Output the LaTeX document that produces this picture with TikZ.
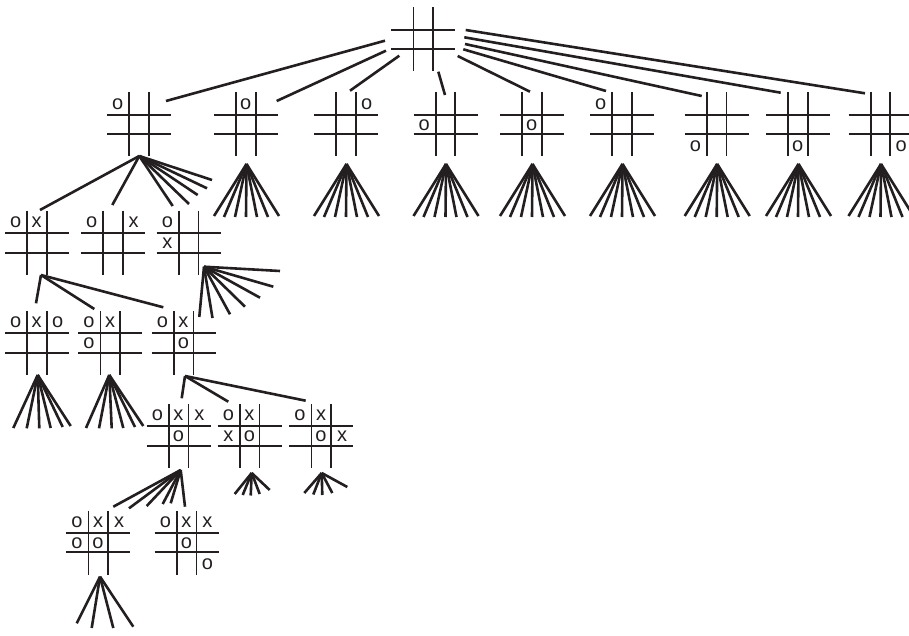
\documentclass[tikz,border=0pt]{standalone}
\usepackage{fontspec}
\setmainfont{Liberation Sans}
\usetikzlibrary{calc}
\definecolor{ink}{HTML}{231F20}
\newcommand\tttboard[3]{%
  \node[board] (#1) at (#2,#3) {};
  \draw[gridline] ($(#1.north)+(-9.7,0)$) -- ($(#1.south)+(-9.7,0)$);
  \draw[gridline] ($(#1.north)+(9.7,0)$) -- ($(#1.south)+(9.7,0)$);
  \draw[gridline] ($(#1.west)+(0,-9.7)$) -- ($(#1.east)+(0,-9.7)$);
  \draw[gridline] ($(#1.west)+(0,9.7)$) -- ($(#1.east)+(0,9.7)$);
}
\newcommand\cellmk[4]{%
  \node[cellmark] (#1-#2#3) at ($(#1)+({(#2-2)*21-0.3},{(#3-2)*21+0.5})$) {#4};
}
\begin{document}
\begin{tikzpicture}[x=1pt,y=-1pt,
  gridline/.style={draw=ink, line width=1.7pt, line cap=butt},
  conn/.style={draw=ink, line width=2.6pt, line cap=butt},
  board/.style={minimum width=64pt, minimum height=64pt, inner sep=0pt, outer sep=0pt},
  cellmark/.style={text=ink, font=\fontsize{20}{20}\selectfont, inner sep=0pt}]
\useasboundingbox (0,0) rectangle (909,636);

% root
\tttboard{t}{423.3}{39.5}

% level 1
\foreach \k/\x in {1/139,2/246,3/346,4/445.5,5/532,6/622,7/716.7,8/798,9/880.5}{
  \tttboard{a\k}{\x}{124.5}
}
\cellmk{a1}{1}{1}{o}
\cellmk{a2}{2}{1}{o}
\cellmk{a3}{3}{1}{o}
\cellmk{a4}{1}{2}{o}
\cellmk{a5}{2}{2}{o}
\cellmk{a6}{1}{1}{o}
\cellmk{a7}{1}{3}{o}
\cellmk{a8}{2}{3}{o}
\cellmk{a9}{3}{3}{o}

% level 2
\tttboard{b1}{37}{243}
\tttboard{b2}{113}{243}
\tttboard{b3}{188.7}{243}
\cellmk{b1}{1}{1}{o}\cellmk{b1}{2}{1}{x}
\cellmk{b2}{1}{1}{o}\cellmk{b2}{3}{1}{x}
\cellmk{b3}{1}{1}{o}\cellmk{b3}{1}{2}{x}

% level 3
\tttboard{c1}{37}{343}
\tttboard{c2}{110.3}{343}
\tttboard{c3}{183.7}{343}
\cellmk{c1}{1}{1}{o}\cellmk{c1}{2}{1}{x}\cellmk{c1}{3}{1}{o}
\cellmk{c2}{1}{1}{o}\cellmk{c2}{2}{1}{x}\cellmk{c2}{1}{2}{o}
\cellmk{c3}{1}{1}{o}\cellmk{c3}{2}{1}{x}\cellmk{c3}{2}{2}{o}

% level 4
\tttboard{d1}{178.7}{436}
\tttboard{d2}{249.7}{436}
\tttboard{d3}{321.3}{436}
\cellmk{d1}{1}{1}{o}\cellmk{d1}{2}{1}{x}\cellmk{d1}{3}{1}{x}\cellmk{d1}{2}{2}{o}
\cellmk{d2}{1}{1}{o}\cellmk{d2}{2}{1}{x}\cellmk{d2}{1}{2}{x}\cellmk{d2}{2}{2}{o}
\cellmk{d3}{1}{1}{o}\cellmk{d3}{2}{1}{x}\cellmk{d3}{2}{2}{o}\cellmk{d3}{3}{2}{x}

% level 5
\tttboard{e1}{98.3}{542.5}
\tttboard{e2}{186.7}{542.5}
\cellmk{e1}{1}{1}{o}\cellmk{e1}{2}{1}{x}\cellmk{e1}{3}{1}{x}\cellmk{e1}{1}{2}{o}\cellmk{e1}{2}{2}{o}
\cellmk{e2}{1}{1}{o}\cellmk{e2}{2}{1}{x}\cellmk{e2}{3}{1}{x}\cellmk{e2}{2}{2}{o}\cellmk{e2}{3}{3}{o}

% root -> level 1
\foreach \k/\sx/\sy/\ex/\ey in {1/-38.3/1.2/27/-23.5, 2/-37.3/11.2/30.7/-23.5, 3/-24/16.2/4/-33.8,
  4/15/32.2/-0.5/-29.5, 5/34.4/16.5/-2/-32.8, 6/40/9.8/-16/-33.5, 7/41.7/4.5/-15/-28.5,
  8/41/-2.2/-17.3/-31.8, 9/42.4/-9.5/-15.5/-31.2}{
  \draw[conn] ($(t)+(\sx,\sy)$) -- ($(a\k)+(\ex,\ey)$);
}

% fans under level-1 boards 2..9
\foreach \k in {2,...,9}{
  \coordinate (a\k-ap) at ($(a\k)+(0.5,39.5)$);
  \foreach \dx/\dy [count=\j] in {-32/91.5,-22/92.5,-11/92.5,0/92.5,11/92.5,22/92.5,33/91.5}{
    \coordinate (a\k-e\j) at ($(a\k)+(\dx,\dy)$);
    \draw[conn] (a\k-ap) -- (a\k-e\j);
  }
}

% a1 -> level 2 and stubs
\coordinate (a1-ap) at ($(a1)+(0.3,31.5)$);
\draw[conn] (a1-ap) -- ($(b1)+(3,-33)$);
\draw[conn] (a1-ap) -- ($(b2)+(-0.7,-38)$);
\draw[conn] (a1-ap) -- ($(b3)+(-16,-37)$);
\foreach \dx/\dy [count=\j] in {50/79.5,58.7/70.5,68/63.8,73/55.5}{
  \coordinate (a1-e\j) at ($(a1)+(\dx,\dy)$);
  \draw[conn] (a1-ap) -- (a1-e\j);
}

% b1 -> level 3
\coordinate (b1-ap) at ($(b1)+(4,32)$);
\draw[conn] (b1-ap) -- ($(c1)+(-1,-39.7)$);
\draw[conn] (b1-ap) -- ($(c2)+(-16,-34)$);
\draw[conn] (b1-ap) -- ($(c3)+(-20.4,-35.7)$);

% b3 fan
\coordinate (b3-ap) at ($(b3)+(15.3,23.7)$);
\foreach \dx/\dy [count=\j] in {10.6/74,23.8/75,41.3/71.3,56.3/63.7,71.3/54.7,84.6/43.7,91.3/28}{
  \coordinate (b3-e\j) at ($(b3)+(\dx,\dy)$);
  \draw[conn] (b3-ap) -- (b3-e\j);
}

% c1, c2 fans
\coordinate (c1-ap) at ($(c1)+(0.7,32)$);
\foreach \dx/\dy [count=\j] in {-23.7/85,-10.3/85.3,2.3/85.3,13.7/85,25.7/84,33.7/83}{
  \coordinate (c1-e\j) at ($(c1)+(\dx,\dy)$);
  \draw[conn] (c1-ap) -- (c1-e\j);
}
\coordinate (c2-ap) at ($(c2)+(-1,32)$);
\foreach \dx/\dy [count=\j] in {-24.3/85,-11.3/85.3,1.4/85.3,13/85,24.7/84,33/83}{
  \coordinate (c2-e\j) at ($(c2)+(\dx,\dy)$);
  \draw[conn] (c2-ap) -- (c2-e\j);
}

% c3 -> level 4
\coordinate (c3-ap) at ($(c3)+(1.3,33)$);
\draw[conn] (c3-ap) -- ($(d1)+(3,-37.7)$);
\draw[conn] (c3-ap) -- ($(d2)+(-21.4,-34.3)$);
\draw[conn] (c3-ap) -- ($(d3)+(-15.6,-35.3)$);

% d1 -> level 5 and stubs
\coordinate (d1-ap) at ($(d1)+(2,34)$);
\draw[conn] (d1-ap) -- ($(e1)+(15,-35.8)$);
\foreach \dx/\dy [count=\j] in {-49.7/72.3,-32/70,-16/68,-8/67.3}{
  \coordinate (d1-e\j) at ($(d1)+(\dx,\dy)$);
  \draw[conn] (d1-ap) -- (d1-e\j);
}
\draw[conn] (d1-ap) -- ($(e2)+(-1.7,-35.8)$);

% d2, d3 fans
\coordinate (d2-ap) at ($(d2)+(2,37)$);
\foreach \dx/\dy [count=\j] in {-15/58,-7/59,1/59.5,10/58,20/54}{
  \coordinate (d2-e\j) at ($(d2)+(\dx,\dy)$);
  \draw[conn] (d2-ap) -- (d2-e\j);
}
\coordinate (d3-ap) at ($(d3)+(0.4,37)$);
\foreach \dx/\dy [count=\j] in {-17/57,-8/58.5,1/59,11/57,26/51}{
  \coordinate (d3-e\j) at ($(d3)+(\dx,\dy)$);
  \draw[conn] (d3-ap) -- (d3-e\j);
}

% e1 fan
\coordinate (e1-ap) at ($(e1)+(1.7,34.2)$);
\foreach \dx/\dy [count=\j] in {-21.6/80.8,-6.6/85.5,15/85.5,35/84.2}{
  \coordinate (e1-e\j) at ($(e1)+(\dx,\dy)$);
  \draw[conn] (e1-ap) -- (e1-e\j);
}
\end{tikzpicture}
\end{document}
